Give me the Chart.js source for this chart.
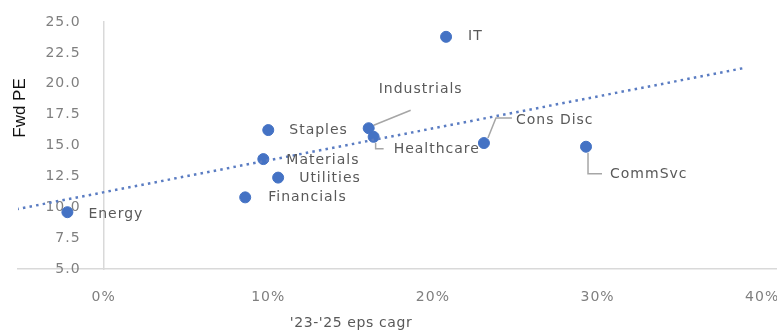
<!DOCTYPE html>
<html>
<head>
<meta charset="utf-8">
<script src="https://cdn.jsdelivr.net/npm/chart.js@4/dist/chart.umd.min.js"></script>
<style>
  html, body { margin: 0; padding: 0; background: #fff; }
  #wrap { width: 777px; height: 336px; position: relative; }
</style>
</head>
<body>
<div id="wrap"><canvas id="c"></canvas></div>
<script>
// Sector valuation vs. expected earnings growth
const sectors   = ['IT', 'Staples', 'Industrials', 'Healthcare', 'Materials', 'Utilities', 'Financials', 'Energy', 'Cons Disc', 'CommSvc'];
const epsGrowth = [20.8, 10.0, 16.1, 16.4, 9.7, 10.6, 8.6, -2.2, 23.1, 29.3];   // '23-'25 eps cagr, %
const fwdPE     = [23.8, 16.25, 16.4, 15.7, 13.9, 12.4, 10.8, 9.6, 15.2, 14.9];  // forward P/E
const xTickValues = [0, 10, 20, 30, 40];
const yTickValues = [5, 7.5, 10, 12.5, 15, 17.5, 20, 22.5, 25];
const trendSpan   = [-5.3, 39.0];   // x extent of the fitted trend line

// Least-squares fit of P/E on growth
function linearFit(xs, ys) {
  const n = xs.length;
  const mx = xs.reduce((a, b) => a + b, 0) / n;
  const my = ys.reduce((a, b) => a + b, 0) / n;
  let sxy = 0, sxx = 0;
  for (let i = 0; i < n; i++) { sxy += (xs[i] - mx) * (ys[i] - my); sxx += (xs[i] - mx) ** 2; }
  const slope = sxy / sxx;
  return { slope, intercept: my - slope * mx };
}
const fit = linearFit(epsGrowth, fwdPE);
const trendPoints = trendSpan.map(x => ({ x, y: fit.intercept + fit.slope * x }));

// Label placement around each marker (pixel offsets, optional leader line)
const labelPlacement = {
  'IT':          { dx: 22, dy: 0 },
  'Staples':     { dx: 21, dy: 0 },
  'Industrials': { dx: 10, dy: -39, leader: [[5, -3], [42, -18]] },
  'Healthcare':  { dx: 20, dy: 13, leader: [[2, 6], [2, 12], [10, 12]] },
  'Materials':   { dx: 23, dy: 1 },
  'Utilities':   { dx: 21, dy: 1 },
  'Financials':  { dx: 23, dy: 0 },
  'Energy':      { dx: 21, dy: 2 },
  'Cons Disc':   { dx: 32, dy: -23, leader: [[4, -5], [12, -25], [28, -25]] },
  'CommSvc':     { dx: 24, dy: 28, leader: [[2, 6], [2, 27], [16, 27]] }
};

const AXIS_GREY = '#d9d9d9';
const TICK_GREY = '#7f7f7f';
const LABEL_GREY = '#595959';
const BLUE = '#4472c4';
const TEXT_SPACING = '1px';
const Y_LABEL_GAP = 23;   // space between value labels and the 0% axis line

// Slightly tracked-out text throughout the chart
const textSpacing = {
  id: 'textSpacing',
  beforeDraw(chart) { chart.ctx.letterSpacing = TEXT_SPACING; }
};

// Value labels for the P/E axis, which crosses at 0% growth
const yAxisLabels = {
  id: 'yAxisLabels',
  beforeDatasetsDraw(chart) {
    const { ctx, scales: { x, y } } = chart;
    const axisX = x.getPixelForValue(0);
    ctx.save();
    ctx.font = '14px "DejaVu Sans"';
    ctx.letterSpacing = TEXT_SPACING;
    ctx.fillStyle = TICK_GREY;
    ctx.textAlign = 'right';
    ctx.textBaseline = 'middle';
    yTickValues.forEach(v => ctx.fillText(v.toFixed(1), axisX - Y_LABEL_GAP, y.getPixelForValue(v)));
    ctx.restore();
  }
};

const pointLabels = {
  id: 'pointLabels',
  afterDatasetsDraw(chart) {
    const ctx = chart.ctx;
    const meta = chart.getDatasetMeta(1);
    ctx.save();
    ctx.font = '14px "DejaVu Sans"';
    ctx.letterSpacing = TEXT_SPACING;
    ctx.textBaseline = 'middle';
    ctx.textAlign = 'left';
    meta.data.forEach((pt, i) => {
      const p = labelPlacement[sectors[i]];
      if (p.leader) {
        ctx.strokeStyle = '#a6a6a6';
        ctx.lineWidth = 1.5;
        ctx.beginPath();
        p.leader.forEach(([lx, ly], k) => {
          if (k === 0) ctx.moveTo(pt.x + lx, pt.y + ly); else ctx.lineTo(pt.x + lx, pt.y + ly);
        });
        ctx.stroke();
      }
      ctx.fillStyle = LABEL_GREY;
      ctx.fillText(sectors[i], pt.x + p.dx, pt.y + p.dy);
    });
    ctx.restore();
  }
};

const axisTitles = {
  id: 'axisTitles',
  afterDraw(chart) {
    const ctx = chart.ctx;
    ctx.save();
    ctx.fillStyle = LABEL_GREY;
    ctx.font = '14px "DejaVu Sans"';
    ctx.letterSpacing = '0.6px';
    ctx.textAlign = 'center';
    ctx.textBaseline = 'middle';
    ctx.fillText("'23-'25 eps cagr", 351, 323);
    ctx.letterSpacing = '0px';
    ctx.translate(20, 108);
    ctx.rotate(-Math.PI / 2);
    ctx.fillStyle = '#111';
    ctx.font = '17px "Liberation Sans"';
    ctx.fillText('Fwd PE', 0, 0);
    ctx.restore();
  }
};

new Chart(document.getElementById('c'), {
  type: 'scatter',
  data: {
    datasets: [
      {
        type: 'line',
        data: trendPoints,
        borderColor: '#5a7cc2',
        borderWidth: 2.5,
        borderDash: [2.5, 4.2],
        pointRadius: 0,
        fill: false,
        tension: 0
      },
      {
        data: sectors.map((s, i) => ({ x: epsGrowth[i], y: fwdPE[i] })),
        backgroundColor: BLUE,
        borderColor: BLUE,
        pointRadius: 5.5,
        pointHoverRadius: 5.5
      }
    ]
  },
  options: {
    responsive: true,
    maintainAspectRatio: false,
    animation: false,
    events: [],
    layout: { autoPadding: false, padding: { left: 18, right: 0, top: 22, bottom: 0 } },
    plugins: { legend: { display: false }, tooltip: { enabled: false } },
    scales: {
      x: {
        type: 'linear',
        position: 'bottom',
        min: -5.2,
        max: 40.9,
        afterBuildTicks: s => { s.ticks = xTickValues.map(v => ({ value: v })); },
        afterFit: s => { s.paddingLeft = 0; s.paddingRight = 0; s.height = 67; },
        ticks: {
          callback: v => v + '%',
          color: TICK_GREY,
          font: { family: 'DejaVu Sans', size: 14 },
          padding: 3,
          maxRotation: 0
        },
        grid: { drawOnChartArea: false, drawTicks: true, tickLength: 17, tickColor: 'rgba(0,0,0,0)' },
        border: { color: AXIS_GREY, width: 1.5 }
      },
      y: {
        type: 'linear',
        position: { x: 0 },
        min: 5,
        max: 25,
        afterBuildTicks: s => { s.ticks = yTickValues.map(v => ({ value: v })); },
        afterFit: s => { s.paddingTop = 0; s.paddingBottom = 0; },
        ticks: { display: false },
        grid: { drawOnChartArea: false, drawTicks: false },
        border: { color: AXIS_GREY, width: 1.5 }
      }
    }
  },
  plugins: [textSpacing, yAxisLabels, pointLabels, axisTitles]
});
</script>
</body>
</html>
